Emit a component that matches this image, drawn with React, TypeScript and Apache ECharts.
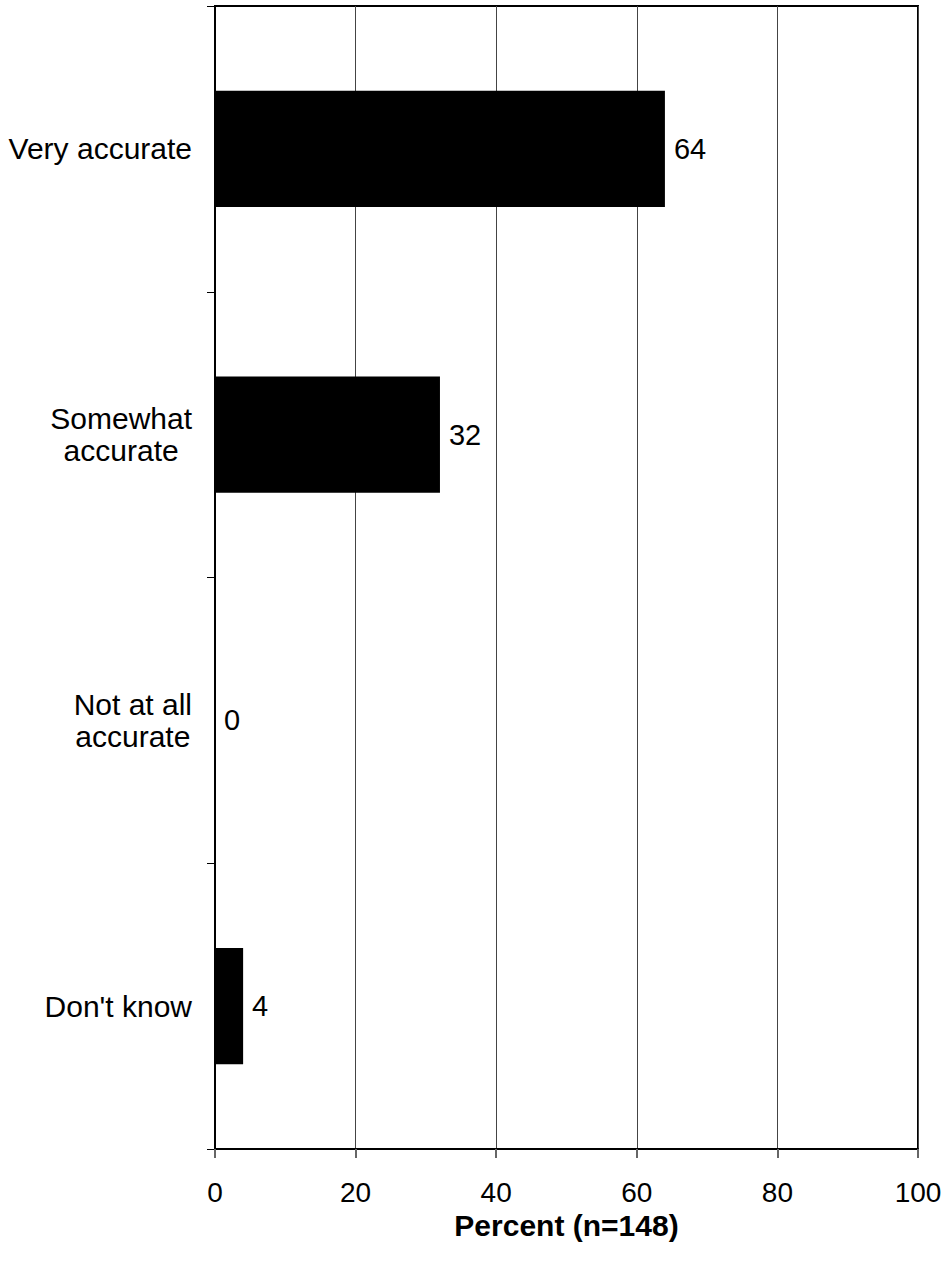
import React, { useEffect, useRef } from "react";
import * as echarts from "echarts";

const categories: string[] = ["Very accurate", "Somewhat\naccurate", "Not at all\naccurate", "Don't know"];
const values: number[] = [64, 32, 0, 4];
const xMin = 0;
const xMax = 100;
const xInterval = 20;
const axisName = "Percent (n=148)";

const FONT = "Liberation Sans, Arial, sans-serif";

export default function App() {
  const ref = useRef<HTMLDivElement>(null);
  useEffect(() => {
    if (!ref.current) return;
    const chart = echarts.init(ref.current, undefined, { renderer: "svg" });
    chart.setOption({
      animation: false,
      backgroundColor: "#ffffff",
      grid: {
        left: 215,
        right: 30,
        top: 6,
        bottom: 112,
        show: true,
        borderColor: "#000",
        borderWidth: 2,
        backgroundColor: "transparent",
      },
      xAxis: {
        type: "value",
        min: xMin,
        max: xMax,
        interval: xInterval,
        name: axisName,
        nameLocation: "middle",
        nameGap: 58,
        nameTextStyle: { fontFamily: FONT, fontSize: 30, fontWeight: "bold", color: "#000" },
        axisLine: { show: true, lineStyle: { color: "#000", width: 2 } },
        axisTick: { show: true, length: 9, lineStyle: { color: "#666", width: 2 } },
        axisLabel: { margin: 29, fontFamily: FONT, fontSize: 28, color: "#000" },
        splitLine: { show: true, lineStyle: { color: "#444", width: 1 } },
      },
      yAxis: {
        type: "category",
        data: categories,
        inverse: true,
        axisLine: { show: true, lineStyle: { color: "#000", width: 2 } },
        axisTick: { show: true, length: 8, lineStyle: { color: "#000", width: 1 } },
        axisLabel: {
          margin: 23,
          fontFamily: FONT,
          fontSize: 30,
          color: "#000",
          lineHeight: 32,
          formatter: (v: string) => v.split("\n").map((l) => "{c|" + l + "}").join("\n"),
          rich: { c: { fontFamily: FONT, fontSize: 30, lineHeight: 32, color: "#000", align: "center" } },
        },
        splitLine: { show: false },
      },
      series: [
        {
          type: "bar",
          data: values,
          barWidth: "40.6%",
          itemStyle: { color: "#000" },
          label: {
            show: true,
            position: "right",
            distance: 9,
            fontFamily: FONT,
            fontSize: 29,
            color: "#000",
          },
        },
      ],
    });
    return () => chart.dispose();
  }, []);
  return <div ref={ref} style={{ position: "absolute", left: 0, top: 0, width: 948, height: 1261 }} />;
}
